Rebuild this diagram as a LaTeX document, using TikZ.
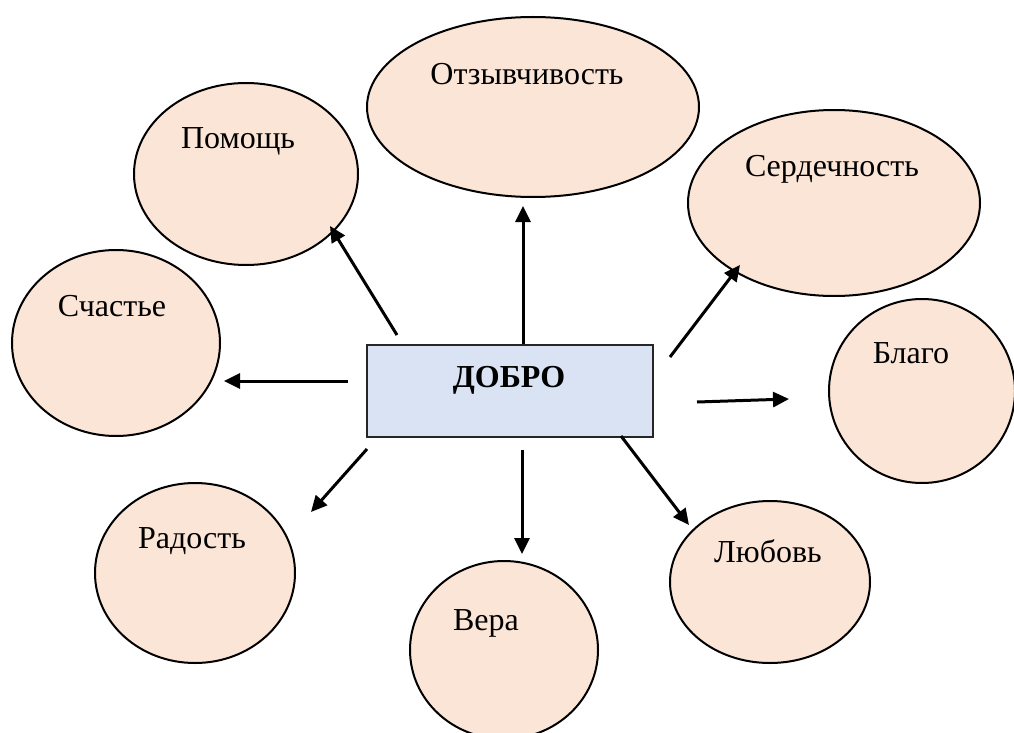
\documentclass[tikz,border=0pt]{standalone}
\usepackage{fontspec}
\setmainfont{Liberation Serif}
\usetikzlibrary{shapes.geometric,arrows.meta}
\definecolor{peach}{HTML}{FBE5D6}
\definecolor{paleblue}{HTML}{DAE3F3}
\tikzset{
  bubble/.style={ellipse, draw=black, line width=2pt, fill=peach, inner sep=0pt},
  lbl/.style={anchor=base, inner sep=0pt, font=\fontsize{32}{38}\selectfont},
  core/.style={rectangle, draw=black!85, line width=2pt, fill=paleblue, inner sep=0pt},
  arr/.style={line width=3pt, -{Triangle[length=16pt,width=15pt]}}
}
\begin{document}
\begin{tikzpicture}[x=1pt,y=-1pt]
\useasboundingbox (0,0) rectangle (1014,733);
\clip (0,0) rectangle (1014,733);
% ellipses
\node[bubble, minimum width=332pt, minimum height=180pt] (otz) at (533,107) {};
\node[bubble, minimum width=224pt, minimum height=182pt] (pom) at (246,174) {};
\node[bubble, minimum width=292pt, minimum height=186pt] (ser) at (834,203) {};
\node[bubble, minimum width=208pt, minimum height=186pt] (sch) at (116,343) {};
\node[bubble, minimum width=186pt, minimum height=184pt] (bla) at (922,391) {};
\node[bubble, minimum width=200pt, minimum height=180pt] (rad) at (195,573) {};
\node[bubble, minimum width=188pt, minimum height=178pt] (ver) at (504,650) {};
\node[bubble, minimum width=200pt, minimum height=162pt] (lub) at (770,582) {};
% labels
\node[lbl] (otzt) at (527,85) {Отзывчивость};
\node[lbl] (pomt) at (238,149) {Помощь};
\node[lbl] (sert) at (832,176) {Сердечность};
\node[lbl] (scht) at (112,316) {Счастье};
\node[lbl] (blat) at (911,363) {Благо};
\node[lbl] (radt) at (192,548) {Радость};
\node[lbl] (vert) at (486,630) {Вера};
\node[lbl] (lubt) at (768,562) {Любовь};
% centre
\node[core, minimum width=286pt, minimum height=92pt] (dob) at (510,391) {};
\node[lbl, font=\fontsize{32}{38}\selectfont\bfseries] (dobt) at (509,387) {ДОБРО};
% arrow ends
\coordinate (a1s) at (523,344); \coordinate (a1e) at (523,206);
\coordinate (a2s) at (397,335); \coordinate (a2e) at (330,226);
\coordinate (a3s) at (670,357); \coordinate (a3e) at (740,265);
\coordinate (a4s) at (348,381); \coordinate (a4e) at (224,381);
\coordinate (a5s) at (697,402); \coordinate (a5e) at (789,399);
\coordinate (a6s) at (367,449); \coordinate (a6e) at (311,512);
\coordinate (a7s) at (522,450); \coordinate (a7e) at (522,554);
\coordinate (a8s) at (621,436); \coordinate (a8e) at (689,525);
\draw[arr] (a1s) -- (a1e);
\draw[arr] (a2s) -- (a2e);
\draw[arr] (a3s) -- (a3e);
\draw[arr] (a4s) -- (a4e);
\draw[arr] (a5s) -- (a5e);
\draw[arr] (a6s) -- (a6e);
\draw[arr] (a7s) -- (a7e);
\draw[arr] (a8s) -- (a8e);
\end{tikzpicture}
\end{document}
